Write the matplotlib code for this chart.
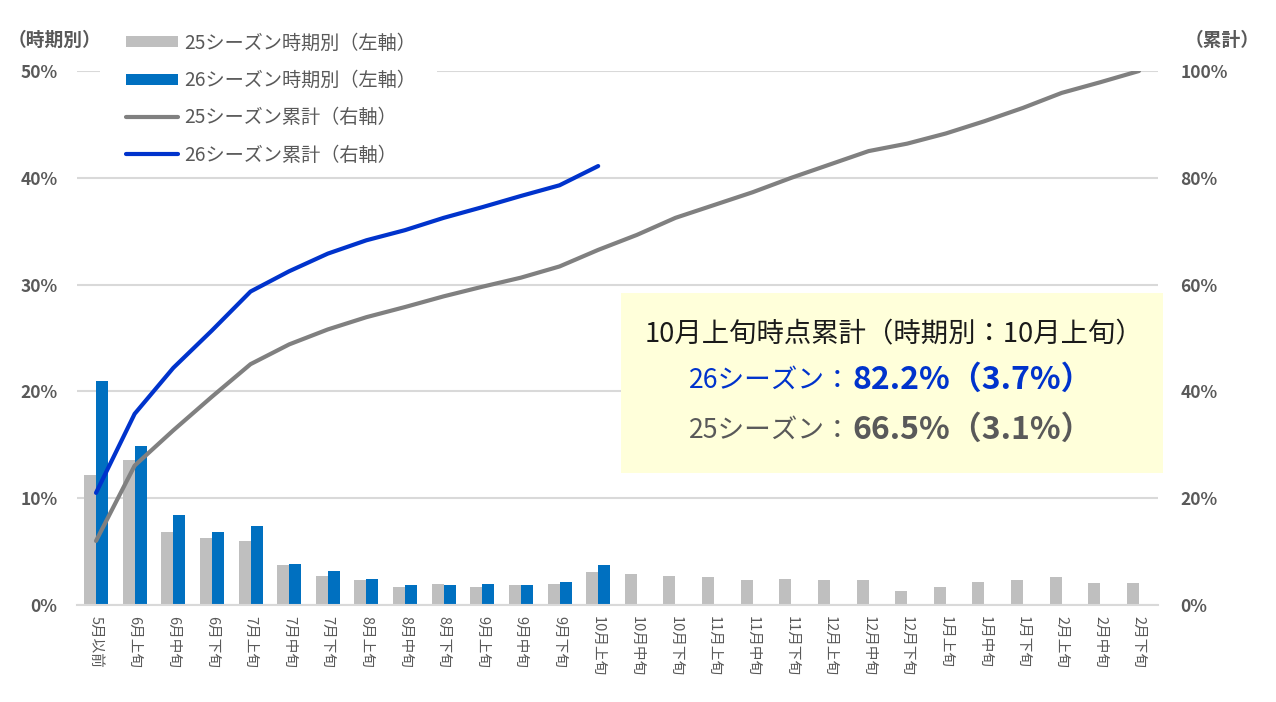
import matplotlib
matplotlib.use('Agg')
import matplotlib.pyplot as plt
from matplotlib.patches import Patch, Rectangle
from matplotlib.lines import Line2D
import numpy as np

plt.rcParams['font.family'] = ['Noto Sans CJK JP', 'DejaVu Sans']

categories = ['5月以前',
              '6月上旬', '6月中旬', '6月下旬',
              '7月上旬', '7月中旬', '7月下旬',
              '8月上旬', '8月中旬', '8月下旬',
              '9月上旬', '9月中旬', '9月下旬',
              '10月上旬', '10月中旬', '10月下旬',
              '11月上旬', '11月中旬', '11月下旬',
              '12月上旬', '12月中旬', '12月下旬',
              '1月上旬', '1月中旬', '1月下旬',
              '2月上旬', '2月中旬', '2月下旬']
s25_period = [12.2, 13.6, 6.8, 6.3, 6.0, 3.7, 2.7, 2.3, 1.65, 2.0, 1.65, 1.85, 2.0, 3.1,
              2.9, 2.7, 2.65, 2.35, 2.45, 2.35, 2.35, 1.3, 1.7, 2.2, 2.35, 2.65, 2.1, 2.1]
s26_period = [21.0, 14.9, 8.4, 6.8, 7.4, 3.8, 3.2, 2.4, 1.9, 1.9, 2.0, 1.9, 2.2, 3.7]
s25_cum = [12.0, 26.1, 32.7, 39.0, 45.1, 48.8, 51.6, 53.9, 55.8, 57.8, 59.6, 61.3, 63.4, 66.5,
           69.3, 72.5, 74.9, 77.3, 80.0, 82.5, 85.0, 86.4, 88.3, 90.6, 93.1, 95.9, 97.9, 100.0]
s26_cum = [21.0, 35.8, 44.4, 51.4, 58.7, 62.5, 65.8, 68.3, 70.2, 72.5, 74.5, 76.6, 78.6, 82.2]
left_ticks = [0, 10, 20, 30, 40, 50]
right_ticks = [0, 20, 40, 60, 80, 100]
legend_labels = ['25シーズン時期別（左軸）', '26シーズン時期別（左軸）',
                 '25シーズン累計（右軸）', '26シーズン累計（右軸）']

C_GREY_BAR = '#BFBFBF'
C_BLUE_BAR = '#0070C0'
C_GREY_LINE = '#808080'
C_BLUE_LINE = '#0033CC'
C_TEXT = '#595959'
C_GRID = '#D9D9D9'

W, H = 1276, 702
fig = plt.figure(figsize=(W / 100, H / 100), dpi=100)
ax = fig.add_axes([76.7 / W, 1 - 605 / H, (1158.3 - 76.7) / W, (605 - 71) / H])

x = np.arange(len(categories))
bw = 0.31
ax.bar(x - bw / 2, s25_period, bw, color=C_GREY_BAR, zorder=2)
ax.bar(x[:len(s26_period)] + bw / 2, s26_period, bw, color=C_BLUE_BAR, zorder=2)

ax.set_xlim(-0.5, len(categories) - 0.5)
ax.set_ylim(0, 50)
ax.set_yticks(left_ticks)
ax.set_yticklabels([f'{v}%' for v in left_ticks])
ax.set_xticks(x)
ax.set_xticklabels(categories, rotation=-90, va='top', ha='center')
ax.yaxis.grid(True, color=C_GRID, lw=1.5)
ax.set_axisbelow(True)
for s in ['top', 'left', 'right']:
    ax.spines[s].set_visible(False)
ax.spines['bottom'].set_color(C_GRID)
ax.spines['bottom'].set_linewidth(1.5)
ax.tick_params(axis='y', length=0, pad=14, labelsize=12.5, labelcolor=C_TEXT)
ax.tick_params(axis='x', length=0, pad=8, labelsize=10.5, labelcolor=C_TEXT)
for t in ax.get_yticklabels():
    t.set_fontweight('bold')

ax2 = ax.twinx()
ax2.set_ylim(0, 100)
ax2.set_yticks(right_ticks)
ax2.set_yticklabels([f'{v}%' for v in right_ticks])
for s in ax2.spines.values():
    s.set_visible(False)
ax2.tick_params(axis='y', length=0, pad=16, labelsize=12.5, labelcolor=C_TEXT)
for t in ax2.get_yticklabels():
    t.set_fontweight('bold')
ax2.plot(x, s25_cum, color=C_GREY_LINE, lw=3, solid_capstyle='round', solid_joinstyle='round', zorder=3)
ax2.plot(x[:len(s26_cum)], s26_cum, color=C_BLUE_LINE, lw=3, solid_capstyle='round', solid_joinstyle='round', zorder=4)

# axis headers
fig.text(54 / W, 1 - 40 / H, '（時期別）', ha='center', va='center', fontsize=13.5,
         fontweight='bold', color=C_TEXT)
fig.text(1222 / W, 1 - 40 / H, '（累計）', ha='center', va='center', fontsize=13.5,
         fontweight='bold', color=C_TEXT)

# white backing for legend
fig.add_artist(Rectangle((100 / W, 1 - 165 / H), 337 / W, 140 / H, transform=fig.transFigure,
                         facecolor='white', edgecolor='none', zorder=1.5))
handles = [Patch(facecolor=C_GREY_BAR, edgecolor='none'),
           Patch(facecolor=C_BLUE_BAR, edgecolor='none'),
           Line2D([], [], color=C_GREY_LINE, lw=3, solid_capstyle='round'),
           Line2D([], [], color=C_BLUE_LINE, lw=3, solid_capstyle='round')]
leg = fig.legend(handles, legend_labels, loc='upper left',
                 bbox_to_anchor=(120 / W, 1 - 27 / H), bbox_transform=fig.transFigure,
                 frameon=False, fontsize=13.8, handlelength=2.72, handleheight=0.5,
                 handletextpad=0.32, labelspacing=0.85, borderpad=0.3, borderaxespad=0)
leg.set_zorder(5)
for t in leg.get_texts():
    t.set_color(C_TEXT)

# annotation box
fig.add_artist(Rectangle((621 / W, 1 - 473 / H), 542 / W, 180 / H, transform=fig.transFigure,
                         facecolor='#FFFFDA', edgecolor='none', zorder=2))
fig.text(645 / W, 1 - 335 / H, '10月上旬時点累計（時期別：10月上旬）', ha='left', va='center',
         fontsize=19.7, color='#1A1A1A', zorder=3)
split = 852
fig.text(split / W, 1 - 380 / H, '26シーズン：', ha='right', va='center',
         fontsize=19.2, color=C_BLUE_LINE, zorder=3)
fig.text(split / W, 1 - 380 / H, '82.2%（3.7%）', ha='left', va='center',
         fontsize=23, fontweight='bold', color=C_BLUE_LINE, zorder=3)
fig.text(split / W, 1 - 430 / H, '25シーズン：', ha='right', va='center',
         fontsize=19.2, color=C_TEXT, zorder=3)
fig.text(split / W, 1 - 430 / H, '66.5%（3.1%）', ha='left', va='center',
         fontsize=23, fontweight='bold', color=C_TEXT, zorder=3)

fig.savefig('out.png', dpi=100)
